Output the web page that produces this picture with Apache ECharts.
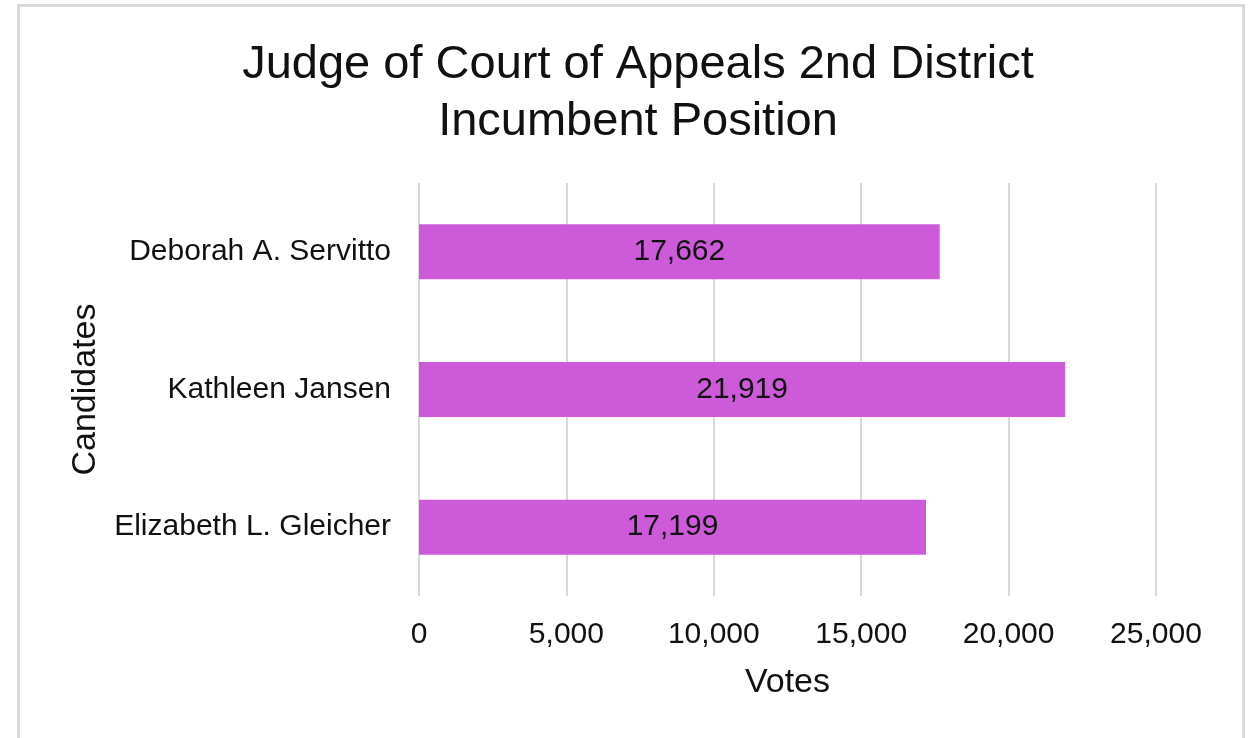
<!DOCTYPE html>
<html>
<head>
<meta charset="utf-8">
<script src="https://cdn.jsdelivr.net/npm/echarts@6/dist/echarts.min.js"></script>
<style>
  html, body { margin: 0; padding: 0; background: #fff; }
  #frame {
    position: absolute; left: 17px; top: 4px; width: 1228px; height: 760px;
    border: 3px solid #d9d9d9; box-sizing: border-box;
  }
  #chart { position: absolute; left: 0; top: 0; width: 1251px; height: 738px; }
</style>
</head>
<body>
<div id="frame"></div>
<div id="chart"></div>
<script>
// categories from bottom to top (ECharts category axis goes up)
const candidates = ['Elizabeth L. Gleicher', 'Kathleen Jansen', 'Deborah A. Servitto']
const votes = [17199, 21919, 17662]
const xTicks = [0, 5000, 10000, 15000, 20000, 25000]

const font = 'Liberation Sans, Arial, sans-serif'
const fmt = v => v.toLocaleString('en-US')

const chart = echarts.init(document.getElementById('chart'))
chart.setOption({
  animation: false,
  title: {
    text: 'Judge of Court of Appeals 2nd District\nIncumbent Position',
    left: 633,
    textAlign: 'center',
    top: 32,
    textStyle: { fontFamily: font, fontSize: 47, fontWeight: 'normal', color: '#111', lineHeight: 57 }
  },
  grid: { left: 419, right: 95, top: 183, bottom: 142 },
  xAxis: {
    type: 'value',
    min: xTicks[0],
    max: xTicks[xTicks.length - 1],
    interval: 5000,
    name: 'Votes',
    nameLocation: 'middle',
    nameGap: 70,
    nameTextStyle: { fontFamily: font, fontSize: 34, color: '#111' },
    axisLine: { show: false },
    axisTick: { show: false },
    axisLabel: { fontFamily: font, fontSize: 30, color: '#111', margin: 24, formatter: fmt },
    splitLine: { lineStyle: { color: '#d9d9d9', width: 2 } }
  },
  yAxis: {
    type: 'category',
    data: candidates,
    name: 'Candidates',
    nameLocation: 'middle',
    nameGap: 316,
    nameTextStyle: { fontFamily: font, fontSize: 34, color: '#111' },
    axisLine: { show: false },
    axisTick: { show: false },
    axisLabel: { fontFamily: font, fontSize: 30, color: '#111', margin: 28 }
  },
  series: [{
    type: 'bar',
    data: votes,
    barWidth: '40%',
    itemStyle: { color: '#cd5bd9' },
    label: {
      show: true,
      position: 'inside',
      fontFamily: font,
      fontSize: 30,
      color: '#111',
      formatter: p => fmt(p.value)
    }
  }]
})
</script>
</body>
</html>
